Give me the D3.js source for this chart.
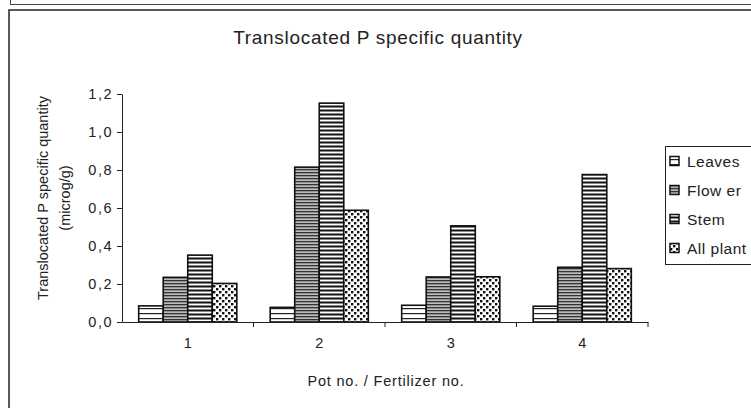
<!DOCTYPE html>
<html>
<head>
<meta charset="utf-8">
<script src="https://cdn.jsdelivr.net/npm/d3@7"></script>
<style>
  body { margin: 0; background: #fff; }
  text { font-family: "Liberation Sans", Arial, sans-serif; fill: #222; }
</style>
</head>
<body>
<script>
let w = 751;
let h = 408;

// data
let pots = ["1", "2", "3", "4"];
let series = ["Leaves", "Flow er", "Stem", "All plant"];
let leaves = [0.085, 0.077, 0.088, 0.083];
let flower = [0.235, 0.815, 0.237, 0.288];
let stem = [0.352, 1.152, 0.506, 0.776];
let allPlant = [0.203, 0.588, 0.238, 0.281];
let yTicks = [0, 0.2, 0.4, 0.6, 0.8, 1.0, 1.2];

let values = [leaves, flower, stem, allPlant];
let rows = [];
pots.forEach((p, i) => {
    series.forEach((s, j) => {
        rows.push({pot: p, s: s, j: j, v: values[j][i]});
    });
});

let svg = d3.select("body")
    .append("svg")
    .attr("width", w)
    .attr("height", h);

// fill patterns
let defs = svg.append("defs");
let pLeaves = defs.append("pattern").attr("id", "pLeaves")
    .attr("patternUnits", "userSpaceOnUse").attr("width", 8).attr("height", 5);
pLeaves.append("rect").attr("width", 8).attr("height", 5).attr("fill", "#fff");
pLeaves.append("rect").attr("y", 3).attr("width", 8).attr("height", 1.2).attr("fill", "#222");

let pFlower = defs.append("pattern").attr("id", "pFlower")
    .attr("patternUnits", "userSpaceOnUse").attr("width", 8).attr("height", 3);
pFlower.append("rect").attr("width", 8).attr("height", 3).attr("fill", "#bbb");
pFlower.append("rect").attr("y", 1).attr("width", 8).attr("height", 1.3).attr("fill", "#333");

let pStem = defs.append("pattern").attr("id", "pStem")
    .attr("patternUnits", "userSpaceOnUse").attr("width", 8).attr("height", 4);
pStem.append("rect").attr("width", 8).attr("height", 4).attr("fill", "#fff");
pStem.append("rect").attr("y", 1.5).attr("width", 8).attr("height", 2).attr("fill", "#111");

let pAll = defs.append("pattern").attr("id", "pAll")
    .attr("patternUnits", "userSpaceOnUse").attr("width", 6).attr("height", 6);
pAll.append("rect").attr("width", 6).attr("height", 6).attr("fill", "#fff");
pAll.append("rect").attr("x", 0).attr("y", 0).attr("width", 2.4).attr("height", 2.4).attr("fill", "#111");
pAll.append("rect").attr("x", 3).attr("y", 3).attr("width", 2.4).attr("height", 2.4).attr("fill", "#111");

let fills = ["url(#pLeaves)", "url(#pFlower)", "url(#pStem)", "url(#pAll)"];

// outer frame
svg.append("line").attr("x1", 10).attr("x2", w).attr("y1", 4.5).attr("y2", 4.5)
    .attr("stroke", "#444").attr("stroke-width", 1);
svg.append("line").attr("x1", 10.5).attr("x2", 10.5).attr("y1", 0).attr("y2", 5)
    .attr("stroke", "#444").attr("stroke-width", 1);
svg.append("path").attr("d", `M9,${h} L9,10 L${w},10`)
    .attr("fill", "none").attr("stroke", "#222").attr("stroke-width", 1.5);

let plotLeft = 122, plotRight = 648, plotTop = 94, plotBottom = 322;

let x = d3.scaleBand().domain(pots).range([plotLeft, plotRight]).paddingInner(0).paddingOuter(0);
let xs = d3.scaleBand().domain(series).range([0, x.bandwidth()]).paddingOuter(0.68).paddingInner(0);
let y = d3.scaleLinear().domain([0, 1.2]).range([plotBottom, plotTop]);

// bars
svg.selectAll("rect.bar")
    .data(rows)
    .enter()
    .append("rect")
    .attr("class", "bar")
    .attr("x", (d) => x(d.pot) + xs(d.s))
    .attr("y", (d) => y(d.v))
    .attr("width", xs.bandwidth())
    .attr("height", (d) => plotBottom - y(d.v))
    .attr("fill", (d) => fills[d.j])
    .attr("stroke", "#111")
    .attr("stroke-width", 1.6);

// y axis
let yAxis = svg.append("g")
    .attr("transform", `translate(${plotLeft},0)`)
    .call(d3.axisLeft(y).tickValues(yTicks).tickSize(5).tickSizeOuter(0)
        .tickFormat((d) => d3.format(".1f")(d).replace(".", ",")));
yAxis.select(".domain").attr("stroke", "#222");
yAxis.selectAll(".tick line").attr("stroke", "#222");
yAxis.selectAll(".tick text").style("font-size", "14.5px").style("letter-spacing", "1.5px")
    .attr("x", -9).attr("fill", "#222");

// x axis: ticks at category boundaries
let xAxis = svg.append("g")
    .attr("transform", `translate(0,${plotBottom})`)
    .call(d3.axisBottom(x).tickSize(0).tickSizeOuter(0));
xAxis.select(".domain").attr("stroke", "#222");
xAxis.selectAll(".tick text").style("font-size", "14.5px").attr("dy", "1.6em").attr("fill", "#222");
svg.selectAll("line.bound")
    .data(pots)
    .enter()
    .append("line")
    .attr("class", "bound")
    .attr("x1", (d) => x(d) + x.bandwidth())
    .attr("x2", (d) => x(d) + x.bandwidth())
    .attr("y1", plotBottom)
    .attr("y2", plotBottom + 5)
    .attr("stroke", "#222");

// titles
svg.append("text").attr("x", 378).attr("y", 44).attr("text-anchor", "middle")
    .style("font-size", "19px").style("letter-spacing", "0.7px")
    .text("Translocated P specific quantity");
svg.append("text").attr("x", 386).attr("y", 386).attr("text-anchor", "middle")
    .style("font-size", "14.5px").style("letter-spacing", "0.8px")
    .text("Pot no. / Fertilizer no.");
let yl = svg.append("text").attr("transform", "translate(48,198) rotate(-90)")
    .attr("text-anchor", "middle").style("font-size", "14.5px");
yl.append("tspan").attr("x", 0).attr("dy", 0).text("Translocated P specific quantity");
yl.append("tspan").attr("x", 0).attr("dy", 22).text("(microg/g)");

// legend
let lg = svg.append("g");
lg.append("rect").attr("x", 665.5).attr("y", 146.5).attr("width", 90).attr("height", 118)
    .attr("fill", "#fff").attr("stroke", "#222");
let items = lg.selectAll("g.item")
    .data(series)
    .enter()
    .append("g")
    .attr("class", "item")
    .attr("transform", (d, i) => `translate(670,${161 + i * 29})`);
items.append("rect").attr("x", 0).attr("y", -4.5).attr("width", 9).attr("height", 9)
    .attr("fill", (d, i) => fills[i]).attr("stroke", "#111").attr("stroke-width", 1.5);
items.append("text").attr("x", 17).attr("y", 5.5).style("font-size", "15.5px")
    .style("letter-spacing", "0.5px").text((d) => d);
</script>
</body>
</html>
